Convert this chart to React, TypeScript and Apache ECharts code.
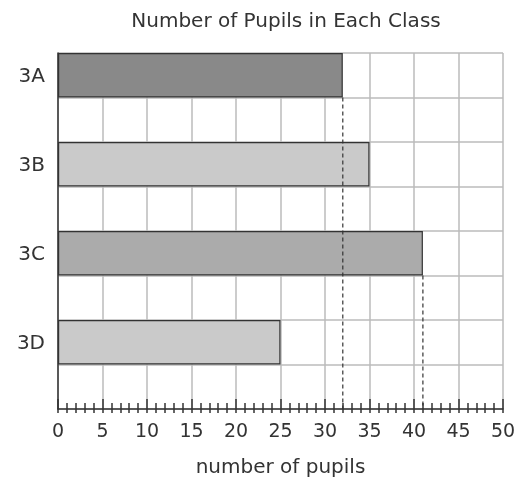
import React, { useEffect, useRef } from "react";
import * as echarts from "echarts";

const classes = ["3A", "3B", "3C", "3D"];
const pupils = [32, 35, 41, 25];
const barColors = ["#898989", "#cacaca", "#ababab", "#cacaca"];
const dashedClasses = ["3A", "3C"];
const xTicks = [0, 5, 10, 15, 20, 25, 30, 35, 40, 45, 50];

const FONT = "'DejaVu Sans', 'Noto Sans', sans-serif";
const GRID = { left: 58, right: 18, top: 53, bottom: 76 };

export default function App() {
  const ref = useRef<HTMLDivElement>(null);
  useEffect(() => {
    const chart = echarts.init(ref.current!, null, { renderer: "svg" });
    // each class takes one row for its bar and one empty row below it
    const rows: string[] = [];
    classes.forEach((c) => {
      rows.push(c);
      rows.push("");
    });
    const barData = rows.map((r) => {
      const i = classes.indexOf(r);
      if (i < 0) return "-";
      return {
        value: pupils[i],
        itemStyle: { color: barColors[i], borderColor: "#333", borderWidth: 1.2 },
      };
    });
    const dashSeries = dashedClasses.map((c) => {
      const i = classes.indexOf(c);
      const v = pupils[i];
      return {
        type: "line",
        xAxisIndex: 0,
        yAxisIndex: 1,
        data: [
          [v, i * 2 + 1],
          [v, rows.length],
        ],
        symbol: "none",
        silent: true,
        z: 5,
        lineStyle: { color: "#333", width: 1.2, type: [4, 3] },
      };
    });
    chart.setOption({
      animation: false,
      title: {
        text: "Number of Pupils in Each Class",
        left: 281,
        textAlign: "center",
        top: 5,
        textStyle: { fontFamily: FONT, fontSize: 20, fontWeight: "normal", color: "#333" },
      },
      grid: [GRID, GRID],
      xAxis: [
        {
          type: "value",
          gridIndex: 0,
          min: 0,
          max: 50,
          interval: 5,
          position: "bottom",
          name: "number of pupils",
          nameLocation: "middle",
          nameGap: 47,
          nameTextStyle: { fontFamily: FONT, fontSize: 20, color: "#333" },
          axisLine: { show: true, onZero: false, lineStyle: { color: "#333", width: 1.5 } },
          axisTick: { show: true, inside: false, length: 4, lineStyle: { color: "#333", width: 1.5 } },
          minorTick: { show: true, splitNumber: 5, length: 4, lineStyle: { color: "#333", width: 1.5 } },
          axisLabel: {
            fontFamily: FONT,
            fontSize: 19,
            color: "#333",
            margin: 11,
            customValues: xTicks,
          },
          splitLine: { show: true, lineStyle: { color: "#bbb", width: 1.5 } },
        },
        {
          type: "value",
          gridIndex: 1,
          min: 0,
          max: 50,
          interval: 5,
          position: "bottom",
          axisLine: { show: false, onZero: false },
          axisTick: { show: true, inside: true, length: 10, lineStyle: { color: "#333", width: 1.5 } },
          minorTick: { show: true, splitNumber: 5, length: 6, lineStyle: { color: "#333", width: 1.5 } },
          axisLabel: { show: false },
          splitLine: { show: false },
        },
      ],
      yAxis: [
        {
          type: "category",
          gridIndex: 0,
          position: "left",
          data: rows,
          inverse: true,
          axisLine: { show: true, onZero: false, lineStyle: { color: "#333", width: 1.5 } },
          axisTick: { show: false },
          axisLabel: { fontFamily: FONT, fontSize: 20, color: "#333", margin: 13 },
          splitLine: { show: true, lineStyle: { color: "#bbb", width: 1.5 } },
        },
        {
          type: "value",
          gridIndex: 0,
          position: "right",
          min: 0,
          max: rows.length,
          inverse: true,
          show: false,
        },
        {
          type: "value",
          gridIndex: 1,
          position: "left",
          min: 0,
          max: 1,
          show: false,
        },
      ],
      series: [
        {
          type: "bar",
          xAxisIndex: 0,
          yAxisIndex: 0,
          data: barData,
          barCategoryGap: 0,
          barWidth: "100%",
          z: 3,
        },
        ...dashSeries,
      ],
    });
    return () => chart.dispose();
  }, []);
  return (
    <div
      ref={ref}
      style={{ position: "fixed", left: 0, top: 0, width: 521, height: 485 }}
    />
  );
}
